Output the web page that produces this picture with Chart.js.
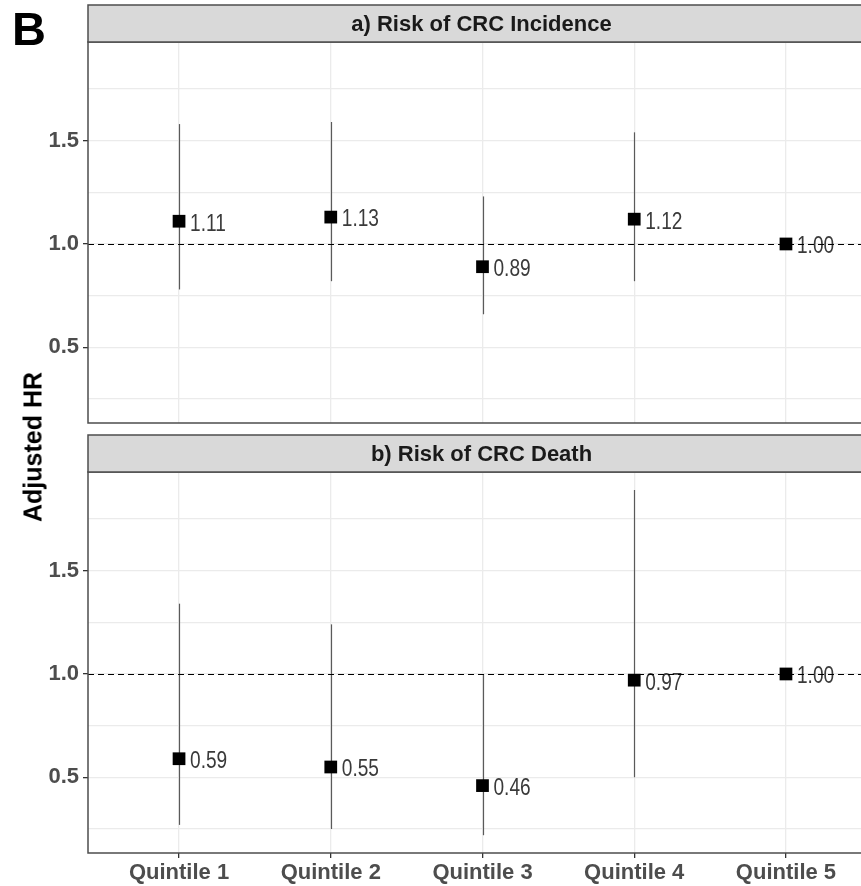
<!DOCTYPE html>
<html>
<head>
<meta charset="utf-8">
<script src="https://cdn.jsdelivr.net/npm/chart.js@4.4.0/dist/chart.umd.min.js"></script>
<style>
  html, body { margin: 0; padding: 0; background: #fff; overflow: hidden; }
  #wrap { position: relative; width: 861px; height: 886px; overflow: hidden; }
  canvas { position: absolute; left: 0; }
  #topPanel { top: 0; }
  #bottomPanel { top: 430px; }
  .letter { position: absolute; left: 12px; top: 5px; font: bold 47px 'Liberation Sans', Arial, sans-serif; line-height: 1; color: #000; }
  .ytitle { position: absolute; left: 33px; top: 447px; transform: translate(-50%, -50%) rotate(-90deg);
            font: bold 25px 'Liberation Sans', Arial, sans-serif; white-space: nowrap; color: #000; }
</style>
</head>
<body>
<div id="wrap">
  <canvas id="topPanel" width="900" height="440"></canvas>
  <canvas id="bottomPanel" width="900" height="456"></canvas>
  <div class="letter">B</div>
  <div class="ytitle">Adjusted HR</div>
</div>
<script>
const categories = ['Quintile 1', 'Quintile 2', 'Quintile 3', 'Quintile 4', 'Quintile 5'];
const panelTitles = ['a) Risk of CRC Incidence', 'b) Risk of CRC Death'];

// a) incidence
const incidenceHR = [1.11, 1.13, 0.89, 1.12, 1.00];
const incidenceLower = [0.78, 0.82, 0.66, 0.82, null];
const incidenceUpper = [1.58, 1.59, 1.23, 1.54, null];

// b) death
const deathHR = [0.59, 0.55, 0.46, 0.97, 1.00];
const deathLower = [0.27, 0.25, 0.22, 0.50, null];
const deathUpper = [1.34, 1.24, 1.00, 1.89, null];

const yTicks = [0.25, 0.5, 0.75, 1.0, 1.25, 1.5, 1.75];
const yLabelTicks = [0.5, 1.0, 1.5];
const yMin = 0.134;
const yMax = 1.977;
const refLine = 1.0;

const FONT = "'Liberation Sans', Arial, sans-serif";

// error bars, value labels, reference line, panel frame and strip
function forest(title, hr, lower, upper) {
  return {
    id: 'forest',
    beforeDatasetsDraw(chart) {
      const { ctx, scales: { x, y } } = chart;
      ctx.save();
      ctx.strokeStyle = '#5a5a5a';
      ctx.lineWidth = 1.2;
      lower.forEach((lo, i) => {
        const hi = upper[i];
        if (lo == null || hi == null) return;
        const px = Math.round(x.getPixelForValue(i)) + 0.5;
        ctx.beginPath();
        ctx.moveTo(px, y.getPixelForValue(lo));
        ctx.lineTo(px, y.getPixelForValue(hi));
        ctx.stroke();
      });
      ctx.restore();
    },
    afterDatasetsDraw(chart) {
      const { ctx, chartArea, scales: { x, y } } = chart;
      ctx.save();
      ctx.fillStyle = '#3a3a3a';
      ctx.font = '23px ' + FONT;
      ctx.textAlign = 'left';
      ctx.textBaseline = 'middle';
      hr.forEach((v, i) => {
        ctx.save();
        ctx.translate(x.getPixelForValue(i) + 11, y.getPixelForValue(v) + 3);
        ctx.scale(0.83, 1);
        ctx.fillText(v.toFixed(2), 0, 0);
        ctx.restore();
      });
      // dashed line at HR = 1
      const ry = Math.round(y.getPixelForValue(refLine)) + 0.5;
      ctx.strokeStyle = '#000';
      ctx.lineWidth = 1.2;
      ctx.setLineDash([6, 4]);
      ctx.beginPath();
      ctx.moveTo(chartArea.left, ry);
      ctx.lineTo(chartArea.right, ry);
      ctx.stroke();
      ctx.restore();
    },
    afterDraw(chart) {
      const { ctx, chartArea: a } = chart;
      ctx.save();
      ctx.strokeStyle = '#4d4d4d';
      ctx.lineWidth = 1.5;
      ctx.strokeRect(a.left, a.top, a.right - a.left, a.bottom - a.top);
      ctx.fillStyle = '#d9d9d9';
      ctx.fillRect(a.left, 5, a.right - a.left, a.top - 5);
      ctx.strokeRect(a.left, 5, a.right - a.left, a.top - 5);
      ctx.fillStyle = '#1a1a1a';
      ctx.font = 'bold 22px ' + FONT;
      ctx.textAlign = 'center';
      ctx.textBaseline = 'middle';
      ctx.fillText(title, (a.left + a.right) / 2 - 1, (5 + a.top) / 2 + 1);
      ctx.restore();
    }
  };
}

function makePanel(id, title, hr, lower, upper, showX) {
  const h = showX ? 456 : 440;
  return new Chart(document.getElementById(id), {
    type: 'scatter',
    data: {
      datasets: [{
        data: hr.map((v, i) => ({ x: i, y: v })),
        pointStyle: 'rect',
        pointRadius: 9,
        pointHoverRadius: 9,
        backgroundColor: '#000',
        borderWidth: 0
      }]
    },
    options: {
      responsive: false,
      animation: false,
      devicePixelRatio: 1,
      events: [],
      layout: { padding: { top: 42, right: 23, left: 0, bottom: 0 } },
      plugins: { legend: { display: false }, tooltip: { enabled: false } },
      scales: {
        x: {
          type: 'linear',
          min: -0.6,
          max: 4.6,
          border: { display: false },
          afterBuildTicks: s => { s.ticks = categories.map((c, i) => ({ value: i })); },
          afterFit: s => { s.height = h - 423; s.paddingLeft = 0; s.paddingRight = 0; },
          grid: { color: '#ebebeb', lineWidth: 1.3, drawTicks: showX, tickLength: 5, tickColor: '#333', tickWidth: 1.3 },
          ticks: {
            display: showX,
            autoSkip: false,
            maxRotation: 0,
            padding: 2,
            color: '#4d4d4d',
            font: { family: FONT, size: 22, weight: 'bold' },
            callback: v => categories[v]
          }
        },
        y: {
          min: yMin,
          max: yMax,
          border: { display: false },
          afterBuildTicks: s => { s.ticks = yTicks.map(v => ({ value: v })); },
          afterFit: s => { s.width = 88; s.paddingTop = 0; s.paddingBottom = 0; },
          grid: {
            color: '#ebebeb',
            lineWidth: 1.3,
            tickLength: 5,
            tickWidth: 1.3,
            tickColor: c => yLabelTicks.includes(c.tick.value) ? '#333' : 'rgba(0,0,0,0)'
          },
          ticks: {
            padding: 4,
            color: '#4d4d4d',
            font: { family: FONT, size: 22, weight: 'bold' },
            callback: v => yLabelTicks.includes(v) ? v.toFixed(1) : ''
          }
        }
      }
    },
    plugins: [forest(title, hr, lower, upper)]
  });
}

makePanel('topPanel', panelTitles[0], incidenceHR, incidenceLower, incidenceUpper, false);
makePanel('bottomPanel', panelTitles[1], deathHR, deathLower, deathUpper, true);
</script>
</body>
</html>
